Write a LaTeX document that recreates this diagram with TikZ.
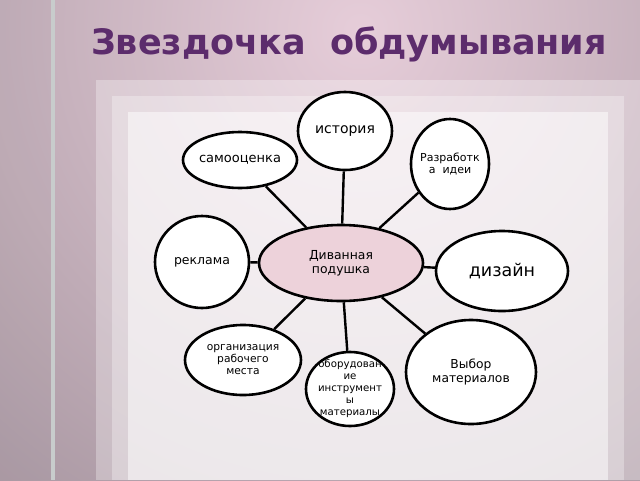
\documentclass[tikz,border=0pt]{standalone}
\usepackage{fontspec}
\setmainfont{DejaVu Sans}
\usetikzlibrary{shapes.geometric}

\definecolor{bgin}{HTML}{E6CDD9}
\definecolor{bgout}{HTML}{A0909A}
\definecolor{stripe}{HTML}{C8CCCC}
\definecolor{titel}{HTML}{5C2C6C}
\definecolor{kissen}{HTML}{EDD2DA}

\begin{document}
\begin{tikzpicture}[x=1pt, y=-1pt,
    bubble/.style={ellipse, draw, line width=2.6pt, fill=white, inner sep=0pt},
    txt/.style={align=center, inner sep=0pt},
    link/.style={line width=2.4pt}]
          \useasboundingbox (0, 0) rectangle (640, 480);%
          \begin{scope}
            \clip (0, 0) rectangle (640, 480);%
            \shade [inner color=bgin, outer color=bgout] (360, 30) circle (680);%
          \end{scope}
          \fill [black!40, opacity=0.05] (0, 0) rectangle (51, 480);%
          \fill [stripe] (51, 0) rectangle (55, 480);%
          \fill [white, opacity=0.3] (96, 80) rectangle (640, 480);%
          \fill [white, opacity=0.3] (112, 96) rectangle (624, 480);%
          \fill [white, opacity=0.5] (128, 112) rectangle (608, 480);%
          \node [anchor=base, text=titel, font=\bfseries\fontsize{35}{40}\selectfont] (titel) at (349, 54) {Звездочка\ \ обдумывания};%
          \node [bubble, fill=kissen, minimum width=164, minimum height=76,
            label={[txt, font=\fontsize{12.4}{14}\selectfont]center:Диванная\\подушка}] (kissen) at (341, 263) {};%
          \node [bubble, minimum width=94, minimum height=78,
            label={[txt, font=\fontsize{14}{16}\selectfont]center:история}] (ist) at (345, 131) {};%
          \node [bubble, minimum width=114, minimum height=56,
            label={[txt, font=\fontsize{13}{15}\selectfont]center:самооценка}] (sam) at (240, 160) {};%
          \node [bubble, minimum width=78, minimum height=90,
            label={[txt, font=\fontsize{11}{12.5}\selectfont]center:Разработк\\а\ \ идеи}] (raz) at (450, 164) {};%
          \node [bubble, minimum width=94, minimum height=92,
            label={[txt, font=\fontsize{12.5}{14}\selectfont]center:реклама}] (rek) at (202, 262) {};%
          \node [bubble, minimum width=132, minimum height=80,
            label={[txt, font=\fontsize{17.5}{20}\selectfont]center:дизайн}] (diz) at (502, 271) {};%
          \node [bubble, minimum width=116, minimum height=70,
            label={[txt, font=\fontsize{10.7}{12}\selectfont]center:организация\\рабочего\\места}] (org) at (243, 360) {};%
          \node [bubble, minimum width=88, minimum height=74,
            label={[txt, font=\fontsize{10.2}{12}\selectfont]center:оборудован\\ие\\инструмент\\ы\\материалы}] (obo) at (350, 389) {};%
          \node [bubble, minimum width=130, minimum height=104,
            label={[txt, font=\fontsize{12.3}{13.5}\selectfont]center:Выбор\\материалов}] (vyb) at (471, 372) {};%
          \draw [link] (kissen) -- (ist);%
          \draw [link] (kissen) -- (sam);%
          \draw [link] (kissen) -- (raz);%
          \draw [link] (kissen) -- (rek);%
          \draw [link] (kissen) -- (diz);%
          \draw [link] (kissen) -- (org);%
          \draw [link] (kissen) -- (obo);%
          \draw [link] (kissen) -- (vyb);%
        \end{tikzpicture}
\end{document}
